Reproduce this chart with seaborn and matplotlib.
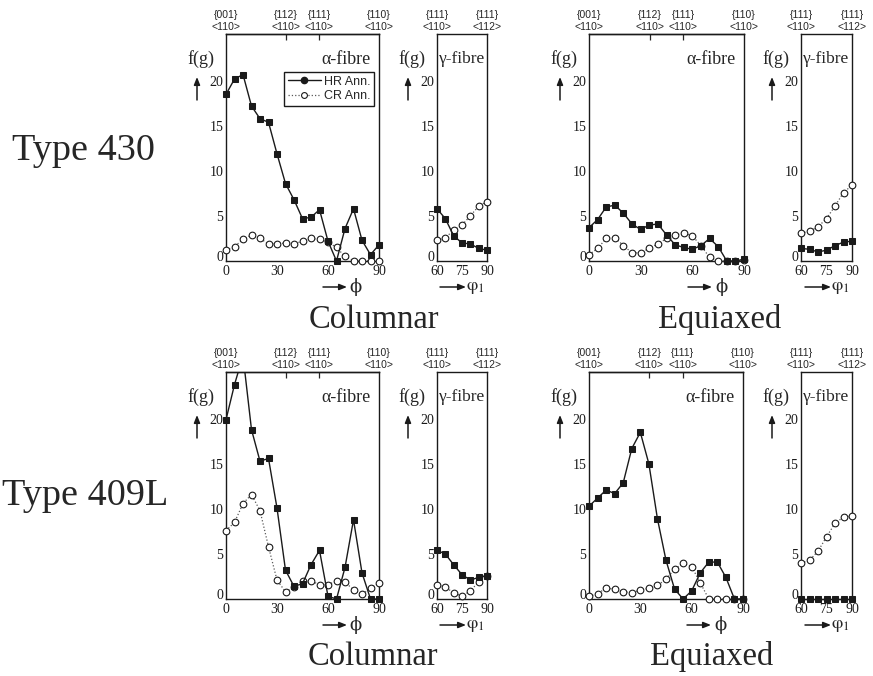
import matplotlib
matplotlib.use("Agg")
import matplotlib.pyplot as plt
import seaborn as sns
from matplotlib.lines import Line2D
from matplotlib.ticker import MultipleLocator, FixedLocator
from matplotlib.transforms import Bbox, TransformedBbox

# ---------------- data ----------------
phi = [0, 5, 10, 15, 20, 25, 30, 35, 40, 45, 50, 55, 60, 65, 70, 75, 80, 85, 90]
phi1 = [60, 65, 70, 75, 80, 85, 90]

# Type 430, columnar
t430c_alpha_hr = [18.5, 20.2, 20.7, 17.2, 15.8, 15.4, 11.9, 8.6, 6.8, 4.7, 4.85, 5.7, 2.2, 0.0, 3.6, 5.8, 2.3, 0.7, 1.8]
t430c_alpha_cr = [1.2, 1.6, 2.4, 2.9, 2.5, 1.9, 1.9, 2.0, 1.9, 2.2, 2.5, 2.4, 2.1, 1.5, 0.5, 0.05, 0.05, 0.05, 0.05]
t430c_gamma_hr = [5.8, 4.7, 2.8, 2.0, 1.9, 1.4, 1.2]
t430c_gamma_cr = [2.3, 2.6, 3.4, 4.0, 5.0, 6.1, 6.6]

# Type 430, equiaxed
t430e_alpha_hr = [3.7, 4.6, 6.0, 6.2, 5.3, 4.1, 3.5, 4.0, 4.1, 2.9, 1.8, 1.5, 1.3, 1.7, 2.5, 1.6, 0.0, 0.0, 0.2]
t430e_alpha_cr = [0.7, 1.4, 2.5, 2.6, 1.7, 0.9, 0.9, 1.4, 1.9, 2.5, 2.9, 3.1, 2.8, 1.7, 0.4, 0.0, 0.0, 0.0, 0.1]
t430e_gamma_hr = [1.4, 1.3, 1.0, 1.2, 1.7, 2.1, 2.2]
t430e_gamma_cr = [3.1, 3.3, 3.8, 4.7, 6.1, 7.6, 8.4]

# Type 409L, columnar
t409c_alpha_hr = [19.9, 23.8, 27.0, 18.8, 15.3, 15.6, 10.1, 3.2, 1.4, 1.7, 3.8, 5.4, 0.3, 0.0, 3.5, 8.8, 2.9, 0.0, 0.0]
t409c_alpha_cr = [7.6, 8.5, 10.6, 11.6, 9.8, 5.8, 2.1, 0.8, 1.3, 2.0, 2.0, 1.6, 1.6, 2.0, 1.9, 1.0, 0.5, 1.2, 1.8]
t409c_gamma_hr = [5.4, 5.0, 3.8, 2.7, 2.1, 2.4, 2.6]
t409c_gamma_cr = [1.6, 1.3, 0.7, 0.3, 0.9, 1.9, 2.5]

# Type 409L, equiaxed
t409e_alpha_hr = [10.3, 11.2, 12.1, 11.7, 12.9, 16.7, 18.5, 15.0, 8.9, 4.3, 1.1, 0.0, 0.9, 2.9, 4.1, 4.1, 2.4, 0.0, 0.0]
t409e_alpha_cr = [0.3, 0.6, 1.2, 1.1, 0.8, 0.7, 1.0, 1.2, 1.5, 2.2, 3.3, 4.0, 3.6, 1.8, 0.0, 0.0, 0.0, 0.0, 0.0]
t409e_gamma_hr = [0.0, 0.0, 0.0, 0.0, 0.0, 0.0, 0.0]
t409e_gamma_cr = [4.0, 4.3, 5.3, 6.9, 8.4, 9.1, 9.2]

alpha_pos = [0, 35.26, 54.74, 90]
alpha_top1 = ["{001}", "{112}", "{111}", "{110}"]
alpha_top2 = ["<110>", "<110>", "<110>", "<110>"]
gamma_pos = [60, 90]
gamma_top1 = ["{111}", "{111}"]
gamma_top2 = ["<110>", "<112>"]

series_labels = ["HR Ann.", "CR Ann."]
row_labels = ["Type 430", "Type 409L"]
col_labels = ["Columnar", "Equiaxed"]

# ---------------- style ----------------
sns.set_theme(style="white")
plt.rcParams["font.family"] = ["Liberation Serif", "DejaVu Serif"]
plt.rcParams["mathtext.fontset"] = "stix"

W, H = 873, 676
fig = plt.figure(figsize=(W / 100, H / 100), dpi=100)
fig.patch.set_facecolor("white")

SANS = ["Liberation Sans", "DejaVu Sans"]
PT = 0.72  # points per pixel


def make_ax(L, R, T, B):
    ax = fig.add_axes([L / W, 1 - B / H, (R - L) / W, (B - T) / H])
    ax.set_facecolor("white")
    for s in ax.spines.values():
        s.set_color("k")
        s.set_linewidth(1.0)
        s.set_visible(True)
    return ax, R - L, B - T


def draw(ax, x, hr, cr):
    sns.lineplot(x=x, y=cr, ax=ax, color="0.35", lw=0.9, linestyle=":",
                 marker="o", markersize=4.8, markerfacecolor="white",
                 markeredgecolor="k", markeredgewidth=0.8, legend=False,
                 estimator=None, sort=False, zorder=3)
    sns.lineplot(x=x, y=hr, ax=ax, color="k", lw=1.0,
                 marker="s", markersize=4.8, markerfacecolor="k",
                 markeredgecolor="k", legend=False,
                 estimator=None, sort=False, zorder=4)
    clip = TransformedBbox(Bbox([[-0.15, -0.15], [1.15, 1.0]]), ax.transAxes)
    for ln in ax.lines:
        ln.set_clip_path(None)
        ln.set_clip_box(clip)


def style_axes(ax, w, h, kind):
    ax.set_ylim(0, 25.2)
    ax.yaxis.set_major_locator(FixedLocator([0, 5, 10, 15, 20]))
    ax.yaxis.set_minor_locator(MultipleLocator(1))
    if kind == "alpha":
        ax.set_xlim(0, 90)
        ax.xaxis.set_major_locator(FixedLocator([0, 30, 60, 90]))
    else:
        ax.set_xlim(60, 90)
        ax.xaxis.set_major_locator(FixedLocator([60, 75, 90]))
    ax.xaxis.set_minor_locator(MultipleLocator(5))
    ax.tick_params(which="both", direction="in", top=False, right=False,
                   colors="k", labelsize=10, pad=2)
    ax.tick_params(axis="x", which="major", pad=3)
    ax.tick_params(which="major", length=4, width=0.9)
    ax.tick_params(which="minor", length=2, width=0.7)
    ax.set_xlabel("")
    ax.set_ylabel("")
    ax.grid(False)
    # lift the y "0" label slightly off the corner, as in the reference
    ax.yaxis.get_major_ticks()[0].label1.set_verticalalignment("baseline")

    pos, t1, t2 = (alpha_pos, alpha_top1, alpha_top2) if kind == "alpha" else (gamma_pos, gamma_top1, gamma_top2)
    for p, a, b in zip(pos, t1, t2):
        ax.annotate(a, xy=(p, 1), xycoords=("data", "axes fraction"),
                    xytext=(0, 19 * PT), textcoords="offset points",
                    ha="center", va="center", fontsize=7.5, family=SANS,
                    annotation_clip=False)
        ax.annotate(b, xy=(p, 1), xycoords=("data", "axes fraction"),
                    xytext=(0, 7 * PT), textcoords="offset points",
                    ha="center", va="center", fontsize=7.5, family=SANS,
                    annotation_clip=False)
    if kind == "alpha":
        sec = ax.secondary_xaxis("top")
        sec.set_xticks([35.26, 54.74])
        sec.tick_params(direction="in", length=4, width=0.9, labeltop=False)
        sec.spines["top"].set_linewidth(1.0)

    # f(g) and up arrow
    ax.text(-25 / w, 1 - 25 / h, "f(g)", transform=ax.transAxes,
            ha="center", va="center", fontsize=13)
    ax.annotate("", xy=(-29 / w, 1 - 43 / h), xytext=(-29 / w, 1 - 66 / h),
                xycoords="axes fraction", textcoords="axes fraction",
                arrowprops=dict(arrowstyle="-|>,head_width=0.18,head_length=0.45",
                                lw=1.1, color="k", shrinkA=0, shrinkB=0,
                                mutation_scale=10))
    if kind == "alpha":
        ax.text(1 - 8 / w, 1 - 25 / h, "α-fibre", transform=ax.transAxes,
                ha="right", va="center", fontsize=13)
        a0, a1, tx = 56, 32, 23
        ax.text(1 - tx / w, -26 / h, "ϕ", transform=ax.transAxes,
                ha="center", va="center", fontsize=13,
                family=["DejaVu Serif", "DejaVu Sans"])
    else:
        ax.text(2 / w, 1 - 25 / h, "γ-fibre", transform=ax.transAxes,
                ha="left", va="center", fontsize=12.5)
        a0, a1, tx = 47, 21, 12
        ax.text(1 - tx / w, -26 / h, r"$\mathrm{\varphi}_1$", transform=ax.transAxes,
                ha="center", va="center", fontsize=13)
    ax.annotate("", xy=(1 - a1 / w, -26 / h), xytext=(1 - a0 / w, -26 / h),
                xycoords="axes fraction", textcoords="axes fraction",
                arrowprops=dict(arrowstyle="-|>,head_width=0.18,head_length=0.45",
                                lw=1.1, color="k", shrinkA=0, shrinkB=0,
                                mutation_scale=10))


panels = [
    ((226, 379, 34, 261), "alpha", phi, t430c_alpha_hr, t430c_alpha_cr),
    ((437, 487, 34, 261), "gamma", phi1, t430c_gamma_hr, t430c_gamma_cr),
    ((589, 744, 34, 261), "alpha", phi, t430e_alpha_hr, t430e_alpha_cr),
    ((801, 852, 34, 261), "gamma", phi1, t430e_gamma_hr, t430e_gamma_cr),
    ((226, 379, 372, 599), "alpha", phi, t409c_alpha_hr, t409c_alpha_cr),
    ((437, 487, 372, 599), "gamma", phi1, t409c_gamma_hr, t409c_gamma_cr),
    ((589, 743, 372, 599), "alpha", phi, t409e_alpha_hr, t409e_alpha_cr),
    ((801, 852, 372, 599), "gamma", phi1, t409e_gamma_hr, t409e_gamma_cr),
]

axes = []
for box, kind, x, hr, cr in panels:
    ax, w, h = make_ax(*box)
    draw(ax, x, hr, cr)
    style_axes(ax, w, h, kind)
    axes.append((ax, w, h))

# legend in first panel
ax0, w0, h0 = axes[0]
handles = [
    Line2D([], [], color="k", lw=1.0, marker="o", ms=4.5, mfc="k", mec="k"),
    Line2D([], [], color="0.35", lw=0.9, ls=":", marker="o", ms=4.2, mfc="white", mec="k", mew=0.8),
]
leg = ax0.legend(handles, series_labels, loc="upper right",
                 bbox_to_anchor=(1 - 5 / w0, 1 - 38 / h0), frameon=True,
                 fancybox=False, edgecolor="k", framealpha=1,
                 prop={"family": SANS, "size": 9}, handlelength=2.6,
                 handletextpad=0.25, borderpad=0.3, labelspacing=0.2,
                 borderaxespad=0)
leg.get_frame().set_linewidth(1.0)
leg.set_zorder(10)

# row / column labels
fig.text(84 / W, 1 - 160 / H, row_labels[0], ha="center", va="baseline", fontsize=27.5)
fig.text(85 / W, 1 - 505 / H, row_labels[1], ha="center", va="baseline", fontsize=27.5)
fig.text(374 / W, 1 - 328 / H, col_labels[0], ha="center", va="baseline", fontsize=23.5)
fig.text(720 / W, 1 - 328 / H, col_labels[1], ha="center", va="baseline", fontsize=23.5)
fig.text(373 / W, 1 - 665 / H, col_labels[0], ha="center", va="baseline", fontsize=23.5)
fig.text(712 / W, 1 - 665 / H, col_labels[1], ha="center", va="baseline", fontsize=23.5)

fig.savefig("out.png", dpi=100, facecolor="white")
